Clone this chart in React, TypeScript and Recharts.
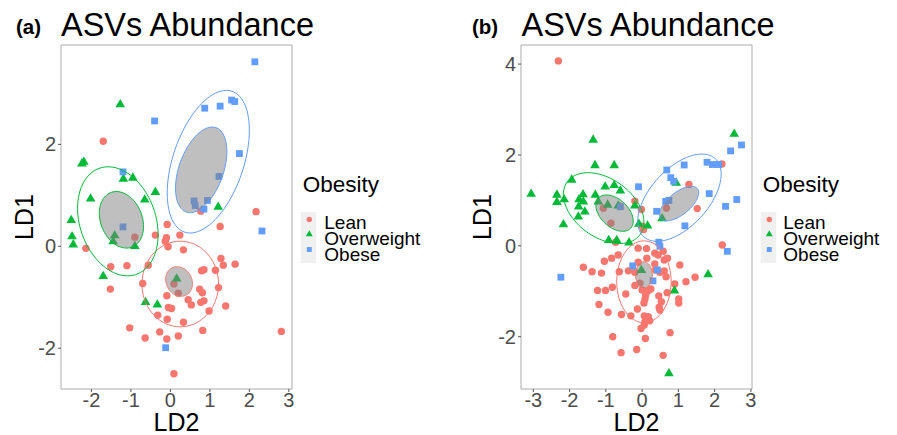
import React from 'react';
import { ScatterChart, Scatter, XAxis, YAxis, ReferenceArea } from 'recharts';

type P = { x: number; y: number };
const pts = (a: number[][]): P[] => a.map(([x, y]) => ({ x, y }));

const FONT = '"Liberation Sans", Arial, sans-serif';
const groups = ['Lean', 'Overweight', 'Obese'];
const colors = ['#F8766D', '#00BA38', '#619CFF'];

// ---------- Panel (a) ----------
const leanA = pts([
  [-1.7, 2.06], [0.77, 0.69], [2.17, 0.68], [-0.9, 0.18], [-0.08, 0.43], [-0.38, 0.22],
  [-0.1, 0.17], [-0.13, 0.1], [-0.06, -0.01], [0.24, 0.22], [1.26, 0.39], [-2.14, -0.04],
  [0.33, -0.07], [1.28, -0.24], [1.34, -0.37], [1.64, -0.35], [-1.51, -0.4], [-1.1, -0.38],
  [-0.56, -0.37], [0.79, -0.48], [0.85, -0.46], [1.14, -0.47], [-1.52, -0.84], [-0.7, -0.73],
  [0.09, -0.74], [0.2, -0.92], [-0.09, -0.97], [0.74, -0.84], [0.81, -0.91], [1.22, -0.81],
  [0.45, -1.05], [0.53, -1.15], [0.77, -1.1], [0.85, -1.07], [-0.05, -1.2], [0.03, -1.22],
  [1.4, -1.17], [0.98, -1.27], [-0.32, -1.35], [-0.08, -1.43], [0.33, -1.49], [-1.03, -1.6],
  [0.82, -1.65], [2.81, -1.67], [-0.27, -1.68], [0.2, -1.76], [-0.64, -1.8], [-0.09, -1.82],
  [0.09, -2.5],
]);
const overA = pts([
  [-1.27, 2.79], [-2.19, 1.66], [-2.24, 1.63], [-1.19, 1.33], [-0.95, 1.35], [-0.38, 1.07],
  [-2.02, 0.94], [-0.65, 0.92], [1.21, 0.78], [-2.51, 0.52], [-2.49, 0.2], [-2.46, 0.04],
  [-1.41, 0.22], [-1.45, 0.1], [-0.9, 0.01], [-1.7, -0.58], [0.16, -0.63], [-0.63, -1.09],
  [-0.33, -1.14],
]);
const obeseA = pts([
  [2.14, 3.62], [-0.4, 2.46], [0.87, 2.71], [1.26, 2.75], [1.55, 2.87], [1.63, 2.84],
  [1.75, 1.82], [-1.2, 1.46], [1.23, 1.37], [0.6, 0.89], [0.63, 0.8], [0.94, 0.9],
  [0.85, 0.73], [2.32, 0.3], [-1.2, 0.38], [-0.12, -1.99],
]);
// ellipses: [cx, cy, rx, ry, correlation]
const outerA = [
  [0.25, -0.74, 0.97, 0.84, 0.0],
  [-1.33, 0.49, 1.02, 1.07, -0.24],
  [0.96, 1.66, 1.04, 1.4, 0.44],
];
const innerA = [
  [0.22, -0.69, 0.34, 0.29, -0.15],
  [-1.24, 0.52, 0.56, 0.555, -0.23],
  [0.78, 1.5, 0.65, 0.84, 0.43],
];
const xDomA = [-2.77, 3.08];
const yDomA = [-2.8, 3.95];
const xTicksA = [-2, -1, 0, 1, 2, 3];
const yTicksA = [-2, 0, 2];

// ---------- Panel (b) ----------
const leanB = pts([
  [-2.31, 4.07], [2.2, 1.8], [1.29, 1.35], [-0.2, 0.98], [-0.02, 0.8], [-1.07, 0.83],
  [-0.86, 0.5], [-0.61, 0.87], [0.0, 0.43], [0.04, 0.36], [0.67, 0.83], [1.52, 0.82],
  [-0.73, 0.08], [2.21, 0.02], [-0.11, -0.05], [0.12, -0.06], [0.35, -0.16], [0.44, -0.2],
  [0.58, -0.12], [-0.66, -0.2], [-0.84, -0.27], [-1.04, -0.34], [-0.11, -0.36], [0.13, -0.27],
  [0.61, -0.31], [0.7, -0.27], [0.35, -0.4], [1.04, -0.42], [-1.38, -0.57], [-1.12, -0.6],
  [-0.63, -0.57], [-0.38, -0.55], [-0.2, -0.58], [0.37, -0.53], [0.49, -0.58], [0.61, -0.55],
  [0.66, -0.68], [0.9, -0.84], [1.21, -0.79], [1.46, -0.69], [-0.2, -0.87], [-0.06, -0.82],
  [0.0, -0.97], [-1.23, -0.98], [-1.01, -0.98], [-0.82, -0.91], [-0.45, -1.06], [0.17, -0.98],
  [0.24, -0.95], [0.1, -1.08], [0.08, -1.17], [0.46, -1.1], [0.53, -1.23], [0.69, -1.03],
  [1.01, -1.17], [1.01, -1.26], [-1.19, -1.29], [0.05, -1.26], [-0.13, -1.39], [0.47, -1.35],
  [0.49, -1.41], [-0.94, -1.46], [-0.57, -1.51], [-0.31, -1.54], [0.06, -1.54], [0.17, -1.56],
  [0.21, -1.65], [0.08, -1.67], [0.06, -1.74], [-0.03, -1.82], [0.77, -1.91], [-0.81, -2.0],
  [0.09, -2.04], [-0.15, -2.28], [-0.58, -2.35], [0.58, -2.41], [-1.62, -0.47],
]);
const overB = pts([
  [-1.35, 2.34], [2.54, 2.47], [-1.3, 1.78], [-0.77, 1.78], [-1.94, 1.46], [0.94, 1.39],
  [-1.02, 1.31], [-0.77, 1.34], [-0.6, 1.22], [-3.06, 1.15], [-2.35, 1.13], [-2.35, 0.97],
  [-2.15, 1.03], [-1.63, 1.14], [-1.29, 1.13], [-1.74, 1.03], [-1.62, 0.98], [-1.75, 0.87],
  [-1.58, 0.76], [-1.76, 0.65], [-2.17, 0.48], [-1.21, 0.98], [-0.95, 0.91], [-0.66, 0.89],
  [-0.2, 0.89], [-0.09, 0.49], [0.15, 0.45], [0.55, 0.61], [-0.92, 0.13], [-0.7, 0.13],
  [-0.36, 0.08], [1.82, -0.62], [-0.02, -0.53], [0.89, -0.98], [0.74, -2.8],
]);
const obeseB = pts([
  [1.16, 1.78], [1.79, 1.84], [1.94, 1.79], [2.11, 1.79], [0.68, 1.67], [0.79, 1.5],
  [0.87, 1.42], [-0.1, 1.3], [1.85, 1.15], [2.61, 1.02], [2.74, 2.22], [2.44, 2.09],
  [0.4, 0.76], [0.65, 0.98], [0.74, 1.0], [1.18, 0.44], [2.3, 0.87], [2.35, -0.12],
  [0.46, 0.08], [0.49, -0.01], [-0.6, 0.86], [-0.26, -0.44], [-2.24, -0.69], [0.3, -0.77],
  [0.42, -0.53],
]);
const outerB = [
  [0.05, -0.79, 0.75, 0.9, 0.0],
  [-1.06, 0.83, 1.11, 0.78, -0.39],
  [1.03, 1.06, 1.15, 0.96, 0.54],
];
const innerB = [
  [0.05, -0.64, 0.23, 0.29, 0.0],
  [-0.76, 0.72, 0.515, 0.4, -0.43],
  [1.02, 0.93, 0.54, 0.38, 0.63],
];
const xDomB = [-3.34, 3.03];
const yDomB = [-3.15, 4.42];
const xTicksB = [-3, -2, -1, 0, 1, 2, 3];
const yTicksB = [-2, 0, 2, 4];

// outline of an ellipse from its parameters (centre, half extents, correlation)
function ellipse(e: number[]): P[] {
  const [cx, cy, rx, ry, r] = e;
  const phi = Math.acos(r);
  const out: P[] = [];
  for (let i = 0; i <= 90; i++) {
    const t = (i / 90) * 2 * Math.PI;
    out.push({ x: cx + rx * Math.cos(t), y: cy + ry * Math.cos(t - phi) });
  }
  return out;
}

function marker(kind: number, color: string, cx: number, cy: number, s = 1) {
  if (kind === 0) return <circle cx={cx} cy={cy} r={3.7 * s} fill={color} />;
  if (kind === 1) {
    const w = 9.6 * s;
    const h = w * 0.866;
    return (
      <path
        d={`M${cx},${cy - h * 0.62}L${cx + w / 2},${cy + h * 0.38}L${cx - w / 2},${cy + h * 0.38}Z`}
        fill={color}
      />
    );
  }
  const a = 6.8 * s;
  return <rect x={cx - a / 2} y={cy - a / 2} width={a} height={a} fill={color} />;
}

const Empty = () => <g />;

function Panel(props: {
  left: number;
  width: number;
  xDom: number[];
  yDom: number[];
  xTicks: number[];
  yTicks: number[];
  series: P[][];
  outer: number[][];
  inner: number[][];
  yLabelOffset: number;
}) {
  const { left, width, xDom, yDom, xTicks, yTicks, series, outer, inner, yLabelOffset } = props;
  return (
    <div style={{ position: 'absolute', left, top: 0 }}>
      <ScatterChart
        width={width}
        height={435}
        margin={{ top: 45, right: width - 61 - 231, bottom: 0, left: 0 }}
        style={{ fontFamily: FONT }}
      >
        <XAxis
          type="number"
          dataKey="x"
          domain={xDom}
          ticks={xTicks}
          interval={0}
          allowDataOverflow
          height={46}
          tickSize={3}
          tickMargin={1}
          axisLine={false}
          tickLine={{ stroke: '#555' }}
          tick={{ fill: '#4d4d4d', fontSize: 20 }}
          label={{ value: 'LD2', position: 'insideBottom', offset: 4, fill: '#000', fontSize: 25 }}
        />
        <YAxis
          type="number"
          dataKey="y"
          domain={yDom}
          ticks={yTicks}
          interval={0}
          allowDataOverflow
          width={61}
          tickSize={3}
          tickMargin={2}
          axisLine={false}
          tickLine={{ stroke: '#555' }}
          tick={{ fill: '#4d4d4d', fontSize: 20 }}
          label={{
            value: 'LD1',
            angle: -90,
            position: 'insideLeft',
            offset: yLabelOffset,
            fill: '#000',
            fontSize: 25,
            style: { textAnchor: 'middle' },
          }}
        />
        {series.map((d, i) => (
          <Scatter
            key={'p' + i}
            name={groups[i]}
            data={d}
            isAnimationActive={false}
            shape={(p: any) => marker(i, colors[i], p.cx, p.cy)}
          />
        ))}
        {outer.map((e, i) => (
          <Scatter
            key={'o' + i}
            data={ellipse(e)}
            isAnimationActive={false}
            shape={Empty}
            line={{ stroke: colors[i], strokeWidth: 1, fill: 'none' }}
          />
        ))}
        {inner.map((e, i) => (
          <Scatter
            key={'i' + i}
            data={ellipse(e)}
            isAnimationActive={false}
            shape={Empty}
            line={{ stroke: colors[i], strokeWidth: 1, fill: '#7f7f7f', fillOpacity: 0.5 }}
          />
        ))}
        <ReferenceArea
          x1={xDom[0]}
          x2={xDom[1]}
          y1={yDom[0]}
          y2={yDom[1]}
          fill="none"
          fillOpacity={0}
          stroke="#ababab"
          strokeWidth={1}
          ifOverflow="visible"
        />
      </ScatterChart>
    </div>
  );
}

function LegendBlock({ x, markerX, textX }: { x: number; markerX: number; textX: number }) {
  const rowY = [219.5, 234, 249.5];
  const baseY = [229, 245, 261];
  return (
    <g>
      <text x={x} y={191.7} fontSize={22.5} fill="#000">
        Obesity
      </text>
      <rect x={markerX - 8.5} y={212} width={15.5} height={51} fill="#f0f0f0" />
      {groups.map((g, i) => (
        <g key={g}>
          {marker(i, colors[i], markerX, rowY[i], 0.72)}
          <text x={textX} y={baseY[i]} fontSize={19} fill="#000">
            {g}
          </text>
        </g>
      ))}
    </g>
  );
}

export default function App() {
  return (
    <div
      style={{
        position: 'absolute',
        left: 0,
        top: 0,
        width: 897,
        height: 435,
        background: '#fff',
        overflow: 'hidden',
        fontFamily: FONT,
      }}
    >
      <Panel
        left={0}
        width={460}
        xDom={xDomA}
        yDom={yDomA}
        xTicks={xTicksA}
        yTicks={yTicksA}
        series={[leanA, overA, obeseA]}
        outer={outerA}
        inner={innerA}
        yLabelOffset={24}
      />
      <Panel
        left={460}
        width={437}
        xDom={xDomB}
        yDom={yDomB}
        xTicks={xTicksB}
        yTicks={yTicksB}
        series={[leanB, overB, obeseB]}
        outer={outerB}
        inner={innerB}
        yLabelOffset={22}
      />
      <svg
        width={897}
        height={435}
        style={{ position: 'absolute', left: 0, top: 0, pointerEvents: 'none', fontFamily: FONT }}
      >
        <text x={16} y={33.5} fontSize={20.5} fontWeight="bold" fill="#000">
          (a)
        </text>
        <text x={61} y={36} fontSize={32.5} fill="#000">
          ASVs Abundance
        </text>
        <text x={472} y={33.5} fontSize={20.5} fontWeight="bold" fill="#000">
          (b)
        </text>
        <text x={521.5} y={36} fontSize={32.5} fill="#000">
          ASVs Abundance
        </text>
        <LegendBlock x={302.7} markerX={309.3} textX={324.3} />
        <LegendBlock x={762.7} markerX={769.3} textX={783.3} />
      </svg>
    </div>
  );
}
